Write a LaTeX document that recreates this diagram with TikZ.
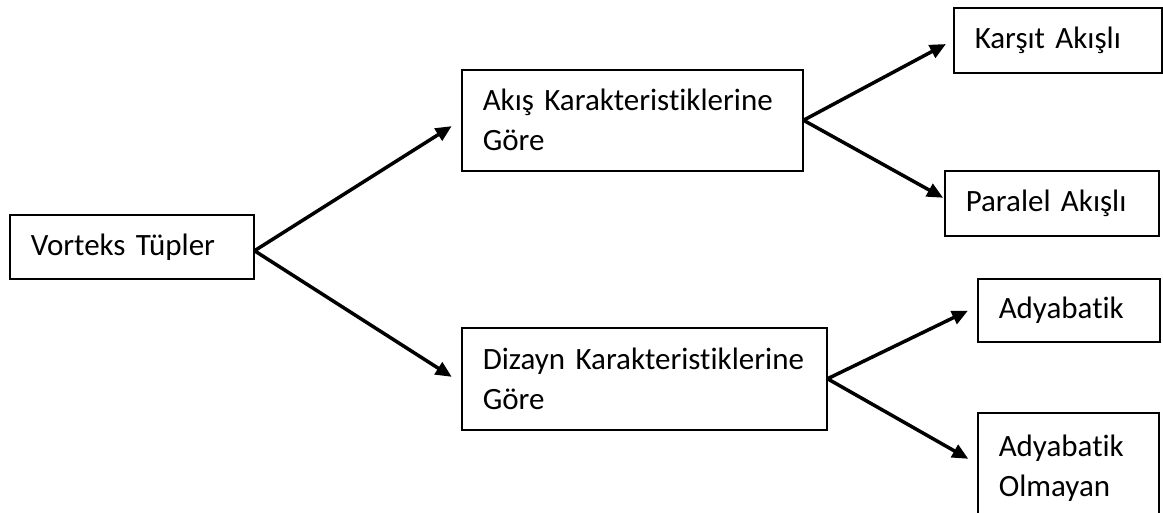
\documentclass[tikz,border=0pt]{standalone}
\usepackage{fontspec}
\setmainfont{Carlito}[Ligatures=NoCommon, WordSpace=0.75]
\usetikzlibrary{arrows.meta, positioning}
\hyphenpenalty=10000
\tikzset{
    catbox/.style={draw=black, line width=1.5pt, anchor=north west, inner xsep=21pt, inner ysep=0pt, align=left, font=\fontsize{31}{40}\selectfont},
    arr/.style={->, line width=3.5pt},
}

\begin{document}
\begin{tikzpicture}[
    x=1pt, y=-1pt,
    >={Triangle[length=16pt, width=14pt]},
]
\useasboundingbox (0,0) rectangle (1163,512);

% root
\node[catbox, text width=202pt, minimum height=64pt] (vortex) at (9,214) {Vorteks Tüpler};

% first level
\node[catbox, text width=299pt, minimum height=101pt] (akis) at (461,69) {Akış Karakteristiklerine\\Göre};
\node[catbox, text width=323pt, minimum height=102pt] (dizayn) at (461,327) {Dizayn Karakteristiklerine\\Göre};

% leaves
\node[catbox, text width=166pt, minimum height=65pt] (karsit) at (953,7) {Karşıt Akışlı};
\node[catbox, text width=172pt, minimum height=65pt] (paralel) at (944,170) {Paralel Akışlı};
\node[catbox, text width=140pt, minimum height=63pt] (adyab) at (977,278) {Adyabatik};
\node[catbox, text width=139pt, minimum height=110pt] (nadyab) at (977,412) {Adyabatik\\Olmayan};

% connectors
\draw[arr, shorten >=11pt] ([yshift=-4pt]vortex.east) -- (akis.west);
\draw[arr, shorten >=11pt] ([yshift=-4pt]vortex.east) -- ([yshift=-4pt]dizayn.west);
\draw[arr, shorten >=8pt] (akis.east) -- (karsit.west);
\draw[arr, shorten >=1pt] (akis.east) -- ([yshift=5pt]paralel.west);
\draw[arr, shorten >=10pt] (dizayn.east) -- ([yshift=4pt]adyab.west);
\draw[arr, shorten >=10pt] (dizayn.east) -- ([yshift=4pt]nadyab.west);

\end{tikzpicture}
\end{document}
